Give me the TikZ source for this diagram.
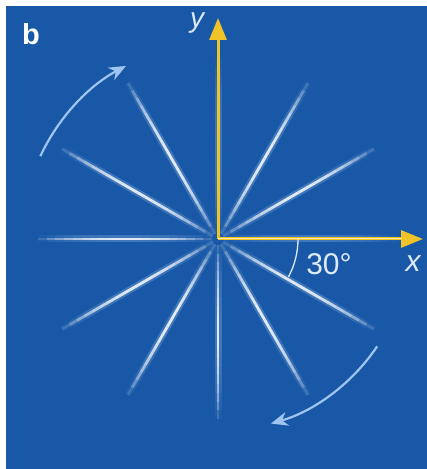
\documentclass[tikz,border=0pt]{standalone}
\usepackage{fontspec}
\setmainfont{Liberation Sans}
\usetikzlibrary{arrows.meta}
\definecolor{bgblue}{RGB}{24,88,166}
\definecolor{axisyellow}{RGB}{240,196,40}
\definecolor{paleblue}{RGB}{160,196,240}
\definecolor{labelwhite}{RGB}{222,234,250}
\tikzset{
  ray/.style={line width=2.8pt, white},
  rayglow/.style={line width=7pt, paleblue},
  axis/.style={-{Triangle[length=22pt, width=17pt]}, line width=3pt, axisyellow},
  turn/.style={-{Stealth[length=17pt, width=14pt]}, line width=2.2pt, paleblue},
  angarc/.style={line width=1.3pt, labelwhite, line cap=round},
  lbl/.style={text=labelwhite, inner sep=0pt, font=\fontsize{30}{30}\selectfont},
}

\begin{document}
\begin{tikzpicture}[x=1pt, y=1pt]
  \useasboundingbox (0,0) rectangle (427,469);
  \fill[bgblue] (6,0) rectangle (427,463);
  \begin{scope}[shift={(218,230)}]
    \coordinate (O) at (0,0);
    % twelve rays, faded towards both ends
    \foreach \a in {0,30,...,330} {
      \foreach \t in {0,...,19} {
        \pgfmathsetmacro{\op}{sin(180*(\t+0.5)/20)^0.7}
        \pgfmathsetmacro{\gop}{0.3*\op}
        \pgfmathsetmacro{\rop}{0.85*\op}
        \draw[rayglow, opacity=\gop] (\a:{6+\t*8.7}) -- (\a:{6+(\t+1)*8.7});
        \draw[ray, opacity=\rop] (\a:{6+\t*8.7}) -- (\a:{6+(\t+1)*8.7});
      }
    }
    % axes
    \coordinate (ytip) at (0,221);
    \coordinate (xtip) at (205,0);
    \draw[axis] (O) -- (ytip);
    \draw[axis] (O) -- (xtip);
    \draw[line width=1pt, axisyellow!40!white] (O) -- (184,0);
    \draw[angarc] (0:80) arc[start angle=0, end angle=-28, radius=80];
    % rotation arrows
    \draw[turn] (155:196) arc[start angle=155, end angle=118, radius=196];
    \draw[turn] (-34:192) arc[start angle=-34, end angle=-74, radius=192];
    % labels
    \node[lbl, font=\fontsize{28}{28}\selectfont\itshape] (ylab) at (-21,216) {y};
    \node[lbl, font=\fontsize{30}{30}\selectfont\itshape] (xlab) at (195,-25) {x};
    \node[lbl] (anglab) at (111,-25) {30°};
  \end{scope}
  \node[lbl, text=white, font=\fontsize{29}{29}\selectfont\bfseries] (panel) at (31,435) {b};
\end{tikzpicture}
\end{document}
